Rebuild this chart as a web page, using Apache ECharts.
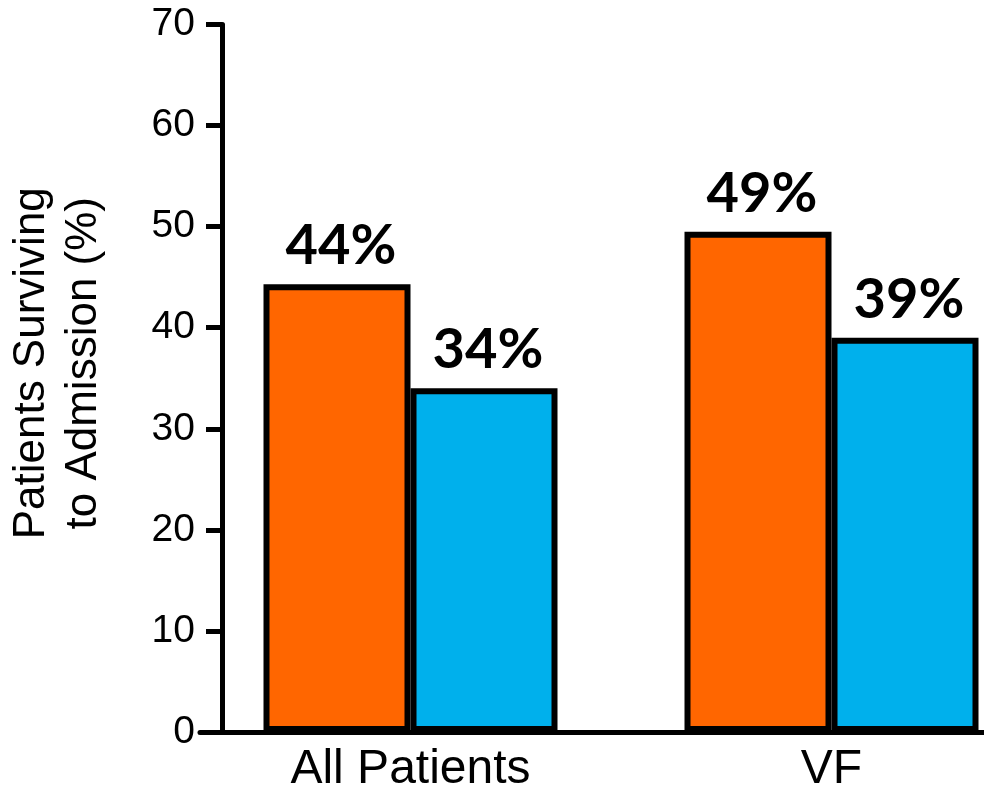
<!DOCTYPE html>
<html><head><meta charset="utf-8">
<script src="https://cdn.jsdelivr.net/npm/echarts@6/dist/echarts.min.js"></script>
<style>html,body{margin:0;padding:0;background:#fff}#c{width:984px;height:791px}</style>
</head><body><div id="c"></div>
<script>
const categories = ['All Patients', 'VF'];
const seriesA = [44.3, 49.5];
const seriesB = [34.0, 39.0];
const labelsA = ['44%', '49%'];
const labelsB = ['34%', '39%'];
const yTicks = [0, 10, 20, 30, 40, 50, 60, 70];
const yName = 'Patients Surviving\nto Admission (%)';

const chart = echarts.init(document.getElementById('c'), null, {renderer: 'canvas'});
const labelStyle = (arr) => ({
  show: true, position: 'top', distance: 10, offset: [4, 0],
  formatter: p => arr[p.dataIndex],
  color: '#000', fontFamily: 'Lato', fontWeight: 'bold', fontSize: 56
});
chart.setOption({
  animation: false,
  grid: {left: 200, width: 842, top: 24.5, bottom: 59, containLabel: false, outerBoundsMode: 'none'},
  xAxis: {
    type: 'category', data: categories,
    axisLine: {lineStyle: {color: '#000', width: 5}},
    axisTick: {show: false},
    axisLabel: {color: '#000', fontFamily: 'Liberation Sans', fontSize: 48, margin: 14}
  },
  yAxis: {
    type: 'value', min: yTicks[0], max: yTicks[yTicks.length - 1], interval: 10,
    offset: -22,
    name: yName, nameLocation: 'middle', nameGap: 112, nameRotate: 90,
    nameTextStyle: {color: '#000', fontFamily: 'Liberation Sans', fontSize: 44, lineHeight: 52, padding: [0, 0, 0, 30]},
    axisLine: {show: true, lineStyle: {color: '#000', width: 5}},
    axisTick: {show: true, length: 16, lineStyle: {color: '#000', width: 5}},
    axisLabel: {color: '#000', fontFamily: 'Liberation Sans', fontSize: 39, margin: 27},
    splitLine: {show: false}
  },
  series: [
    {type: 'bar', data: seriesA, barWidth: 147, barGap: '0%',
     itemStyle: {color: '#FF6600', borderColor: '#000', borderWidth: 6},
     label: labelStyle(labelsA)},
    {type: 'bar', data: seriesB, barWidth: 147, barGap: '0%',
     itemStyle: {color: '#00B0EC', borderColor: '#000', borderWidth: 6},
     label: labelStyle(labelsB)}
  ]
});
</script></body></html>
